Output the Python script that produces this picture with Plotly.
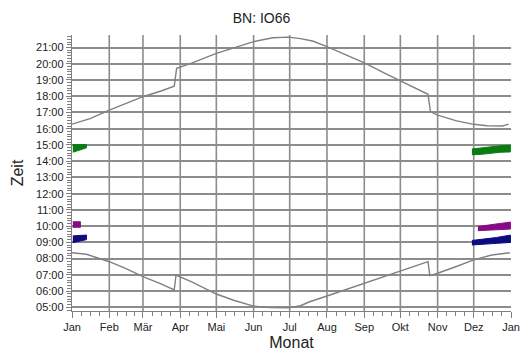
import plotly.graph_objects as go

# Month axis (day of year) and German month labels
month_start = [0, 31, 59, 90, 120, 151, 181, 212, 243, 273, 304, 334, 365]
month_labels = ["Jan", "Feb", "Mär", "Apr", "Mai", "Jun", "Jul", "Aug",
                "Sep", "Okt", "Nov", "Dez", "Jan"]

# Hour axis
hour_ticks = list(range(5, 22))
hour_labels = [f"{h:02d}:00" for h in hour_ticks]

# Sunset (local time, with DST jumps)
sunset_day = [0, 15, 31, 45, 59, 74, 85, 87, 100, 120, 135, 151, 167, 180,
              190, 200, 212, 228, 244, 259, 274, 285, 296, 298, 304, 319,
              334, 345, 358, 363]
sunset_hour = [16.28, 16.62, 17.15, 17.55, 17.97, 18.32, 18.62, 19.72, 20.05,
               20.64, 21.0, 21.36, 21.6, 21.64, 21.55, 21.4, 21.05, 20.55,
               20.03, 19.45, 18.9, 18.48, 18.12, 17.05, 16.84, 16.5, 16.27,
               16.18, 16.17, 16.28]

# Sunrise (local time, with DST jumps)
sunrise_day = [0, 12, 31, 45, 59, 74, 85, 86.5, 100, 120, 135, 151, 165, 180,
               190, 197, 212, 228, 244, 259, 274, 285, 296, 297.5, 304, 319,
               334, 349, 364]
sunrise_hour = [8.36, 8.27, 7.81, 7.38, 6.89, 6.45, 6.07, 6.99, 6.55, 5.82,
                5.42, 5.08, 4.98, 4.97, 5.1, 5.33, 5.7, 6.1, 6.48, 6.87, 7.26,
                7.55, 7.81, 6.95, 7.1, 7.5, 7.92, 8.22, 8.36]

# Observation windows: day, upper and lower time
green_jan_day = [0.7, 12]
green_jan_top = [15.02, 15.02]
green_jan_bot = [14.55, 14.82]

purple_jan_day = [0.7, 7]
purple_jan_top = [10.27, 10.27]
purple_jan_bot = [9.93, 9.93]

navy_jan_day = [0.7, 12]
navy_jan_top = [9.4, 9.45]
navy_jan_bot = [8.98, 9.17]

green_dec_day = [332.5, 340, 348, 356, 364.5]
green_dec_top = [14.75, 14.82, 14.88, 14.95, 14.98]
green_dec_bot = [14.4, 14.42, 14.48, 14.55, 14.57]

purple_dec_day = [337.5, 345, 353, 364.5]
purple_dec_top = [9.98, 10.05, 10.15, 10.25]
purple_dec_bot = [9.72, 9.75, 9.8, 9.82]

navy_dec_day = [332.5, 342, 353, 364.5]
navy_dec_top = [9.12, 9.2, 9.3, 9.45]
navy_dec_bot = [8.84, 8.88, 8.94, 9.0]

GREEN = "#0a7d12"
PURPLE = "#850c85"
NAVY = "#0c0c80"
GRAY = "#808080"
GRID = "#8c8c8c"

fig = go.Figure()

for d, h in [(sunset_day, sunset_hour), (sunrise_day, sunrise_hour)]:
    fig.add_trace(go.Scatter(x=d, y=h, mode="lines",
                             line=dict(color=GRAY, width=1.4),
                             hoverinfo="skip", showlegend=False))


def band(days, top, bot, color):
    fig.add_trace(go.Scatter(
        x=days + days[::-1], y=top + bot[::-1], mode="lines",
        fill="toself", fillcolor=color, line=dict(color=color, width=1),
        hoverinfo="skip", showlegend=False))


band(green_jan_day, green_jan_top, green_jan_bot, GREEN)
band(purple_jan_day, purple_jan_top, purple_jan_bot, PURPLE)
band(navy_jan_day, navy_jan_top, navy_jan_bot, NAVY)
band(green_dec_day, green_dec_top, green_dec_bot, GREEN)
band(purple_dec_day, purple_dec_top, purple_dec_bot, PURPLE)
band(navy_dec_day, navy_dec_top, navy_dec_bot, NAVY)

# Vertical month gridlines (inner months only, none on the closing edge)
for m in month_start[1:-1]:
    fig.add_shape(type="line", xref="x", yref="paper", x0=m, x1=m,
                  y0=0, y1=1, layer="below",
                  line=dict(color=GRID, width=1.6))

# Minor ticks: quarter months on x, 10 minutes on y
x_minor = []
for a, b in zip(month_start[:-1], month_start[1:]):
    x_minor += [a + (b - a) * k / 4 for k in (1, 2, 3)]
y_minor = [h + k / 6 for h in range(4, 22) for k in range(1, 6)
           if 4.775 < h + k / 6 < 21.77]

font = "Liberation Sans, Arial, sans-serif"

fig.update_layout(
    width=523, height=352,
    margin=dict(l=72, r=12, t=35, b=41),
    paper_bgcolor="white", plot_bgcolor="white",
    font=dict(family=font, color="#222222", size=11),
    title=dict(text="BN: IO66", x=0.5, xanchor="center",
               y=1 - 18 / 352, yref="container", yanchor="middle",
               font=dict(size=14, color="#222222")),
    xaxis=dict(
        range=[0, 365], tickmode="array", tickvals=month_start,
        ticktext=month_labels, ticks="outside", ticklen=6, tickwidth=1,
        tickcolor=GRAY, showline=True, linecolor=GRAY, linewidth=1.4,
        showgrid=False, zeroline=False, automargin=False,
        minor=dict(tickvals=x_minor, ticks="outside", ticklen=4,
                   tickcolor=GRAY, showgrid=False),
        title=dict(text="Monat", font=dict(size=16), standoff=4),
    ),
    yaxis=dict(
        range=[4.775, 21.77], tickmode="array", tickvals=hour_ticks,
        ticktext=hour_labels, ticks="outside", ticklen=5, tickwidth=1,
        tickcolor=GRAY, showline=True, linecolor=GRAY, linewidth=1.4,
        showgrid=True, gridcolor=GRID, gridwidth=1.6, zeroline=False,
        automargin=False,
        minor=dict(tickvals=y_minor, ticks="outside", ticklen=4,
                   tickcolor=GRAY, showgrid=False),
        title=dict(text="Zeit", font=dict(size=16), standoff=8),
    ),
)

fig.write_html("out.html")
